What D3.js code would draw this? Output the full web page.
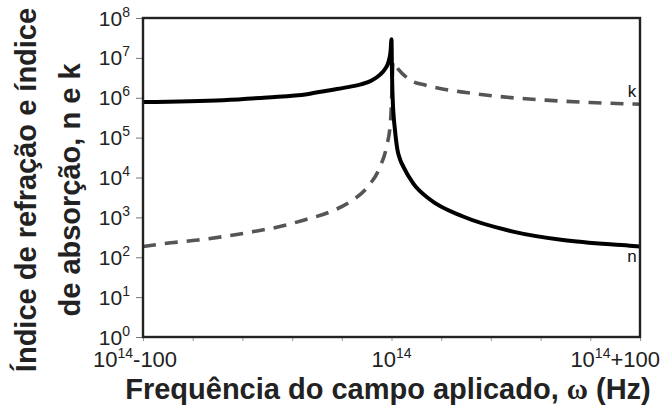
<!DOCTYPE html>
<html>
<head>
<meta charset="utf-8">
<script src="https://cdn.jsdelivr.net/npm/d3@7"></script>
<style>
  html, body { margin: 0; padding: 0; background: #fff; }
  svg { display: block; font-family: "Liberation Sans", Arial, sans-serif; }
</style>
</head>
<body>
<svg id="chart" width="670" height="410"></svg>
<script>
// Frequency offset from 10^14 Hz (in Hz) and the optical constants there
const nOffsets = [-100, -67.8, -50, -34, -24.7, -16.5, -12, -8, -4.6, -2.6, -1.3, -0.4, 0,
                  0.2, 0.5, 1.4, 2.4, 3.4, 4.8, 8.8, 15.5, 28.8, 48.9, 69, 95.8, 100];
const nValues = [7.8e5, 8.7e5, 1.02e6, 1.23e6, 1.55e6, 1.9e6, 2.19e6, 2.7e6, 3.8e6, 5.25e6, 7.6e6, 1.4e7, 2.95e7,
                 4.0e6, 8.7e5, 1.55e5, 4.9e4, 2.9e4, 1.85e4, 7.0e3, 2.8e3, 1.05e3, 440, 270, 195, 186];

const kOffsets = [-100, -88.7, -77.9, -66.2, -55.5, -44.9, -35.4, -24.7, -16.7, -9.5, -4.6, -2.0, -0.4,
                  0.2, 0.6, 2.7, 7.4, 14, 19.5, 30, 45, 62, 80, 100];
const kValues = [186, 230, 270, 340, 440, 590, 850, 1380, 2450, 5900, 1.86e4, 5.9e4, 2.5e5,
                 1.6e6, 7.9e6, 5.25e6, 2.8e6, 2.04e6, 1.7e6, 1.35e6, 1.05e6, 8.7e5, 7.6e5, 6.9e5];

// Axis ticks and labels
const yTickExponents = [0, 1, 2, 3, 4, 5, 6, 7, 8];
const xTickValues = [-100, -80, -60, -40, -20, 0, 20, 40, 60, 80, 100];
const xLabelValues = [-100, 0, 100];
const xLabelSuffixes = ["-100", "", "+100"];
const xTitle = "Frequência do campo aplicado, ";
const yTitleLines = ["Índice de refração e índice", "de absorção, n e k"];

const svg = d3.select("#chart");
const plot = { left: 143, right: 640, top: 18, bottom: 337 };

const x = d3.scaleLinear().domain([-100, 100]).range([plot.left, plot.right]);
const y = d3.scaleLog().domain([1, 1e8]).range([plot.bottom, plot.top]);

// Tick marks
const yAxis = d3.axisLeft(y).tickValues(yTickExponents.map(e => Math.pow(10, e)))
  .tickSize(7).tickFormat("");
const gy = svg.append("g").attr("transform", `translate(${plot.left},0)`).call(yAxis);
gy.select(".domain").remove();
gy.selectAll(".tick line").attr("stroke", "#777").attr("stroke-width", 1);

const xAxis = d3.axisBottom(x).tickValues(xTickValues).tickSize(4).tickFormat("");
const gx = svg.append("g").attr("transform", `translate(0,${plot.bottom})`).call(xAxis);
gx.select(".domain").remove();
gx.selectAll(".tick line").attr("stroke", "#999").attr("stroke-width", 1);

// Y tick labels: 10^e
const yl = svg.append("g").selectAll("text").data(yTickExponents).join("text")
  .attr("x", plot.left - 13)
  .attr("y", d => y(Math.pow(10, d)) + 7.5)
  .attr("text-anchor", "end")
  .attr("fill", "#222")
  .attr("font-size", 21);
yl.append("tspan").text("10");
yl.append("tspan").attr("font-size", 14).attr("dy", -9).text(d => d);

// X tick labels: 10^14 ± 100
const xl = svg.append("g").selectAll("text").data(xLabelValues).join("text")
  .attr("x", d => x(d))
  .attr("y", plot.bottom + 30)
  .attr("text-anchor", "middle")
  .attr("fill", "#222")
  .attr("font-size", 22);
xl.append("tspan").text("10");
xl.append("tspan").attr("font-size", 14).attr("dy", -9).text("14");
xl.append("tspan").attr("dy", 9).text((d, i) => xLabelSuffixes[i]);
xl.filter((d, i) => i === 2).attr("text-anchor", "end").attr("x", 660);
xl.filter((d, i) => i === 0).attr("text-anchor", "start").attr("x", 93);

// Curves
const line = (xs) => d3.line()
  .x((d, i) => x(xs[i]))
  .y(d => y(d))
  .curve(d3.curveMonotoneX);

svg.append("path")
  .attr("d", line(kOffsets)(kValues))
  .attr("fill", "none")
  .attr("stroke", "#555")
  .attr("stroke-width", 3.6)
  .attr("stroke-dasharray", "13,9");

svg.append("path")
  .attr("d", line(nOffsets)(nValues))
  .attr("fill", "none")
  .attr("stroke", "#000")
  .attr("stroke-width", 4)
  .attr("stroke-linejoin", "round");

// Frame
svg.append("rect")
  .attr("x", plot.left).attr("y", plot.top)
  .attr("width", plot.right - plot.left).attr("height", plot.bottom - plot.top)
  .attr("fill", "none").attr("stroke", "#222").attr("stroke-width", 2.4);

// Curve names
svg.append("text").attr("x", 632).attr("y", 97).attr("text-anchor", "middle")
  .attr("font-size", 17).attr("fill", "#111").text("k");
svg.append("text").attr("x", 632).attr("y", 262).attr("text-anchor", "middle")
  .attr("font-size", 17).attr("fill", "#111").text("n");

// Axis titles
const xt = svg.append("text")
  .attr("x", 388).attr("y", 399)
  .attr("text-anchor", "middle")
  .attr("font-size", 29).attr("font-weight", "bold").attr("fill", "#222");
xt.append("tspan").text(xTitle);
xt.append("tspan").attr("font-family", "'Liberation Serif', serif").attr("font-weight", "bold").text("ω");
xt.append("tspan").text(" (Hz)");

svg.append("g").attr("transform", "translate(36,190) rotate(-90)")
  .selectAll("text").data(yTitleLines).join("text")
  .attr("x", 0).attr("y", (d, i) => i * 44)
  .attr("text-anchor", "middle")
  .attr("font-size", 29).attr("font-weight", "bold").attr("fill", "#222")
  .text(d => d);
</script>
</body>
</html>
